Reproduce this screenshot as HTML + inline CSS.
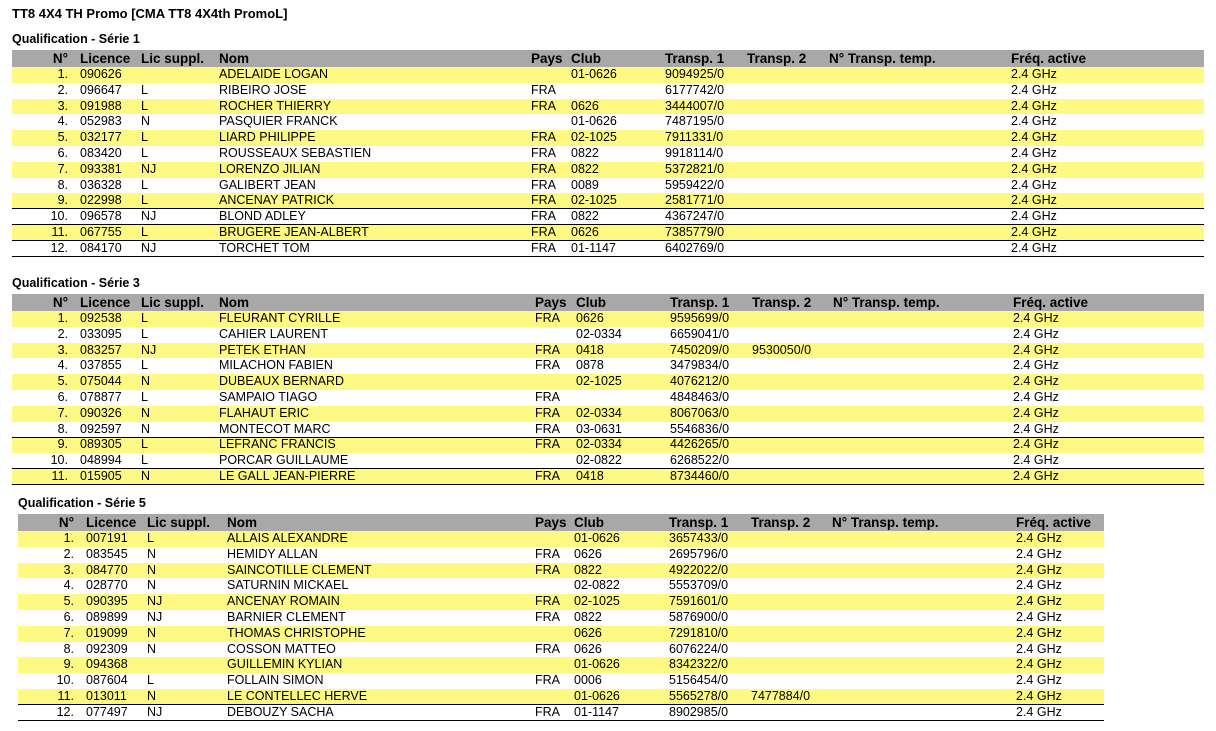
<!DOCTYPE html>
<html><head><meta charset="utf-8"><style>
body{margin:0;width:1216px;height:731px;background:#fff;font-family:"Liberation Sans",Arial,sans-serif;color:#000;position:relative;overflow:hidden}
.t{position:absolute;font-weight:bold;font-size:12.5px;white-space:nowrap}
table{position:absolute;border-collapse:collapse;table-layout:fixed;font-size:12.5px}
td{padding:0;height:15.8px;line-height:15.8px;white-space:nowrap;overflow:hidden}
td:first-child{text-align:right;padding-right:4px}
td:nth-child(2){padding-left:8px}
tr.h td{background:#a8a8a8;font-weight:bold;font-size:13.5px;height:15px;line-height:17px}
tr.y td{background:#fdf982}
tr.b td{background-image:linear-gradient(#000,#000);background-size:100% 1px;background-position:bottom;background-repeat:no-repeat}
tr.tp td{background-image:linear-gradient(#000,#000);background-size:100% 1px;background-position:top;background-repeat:no-repeat}
</style></head><body>
<div class="t" style="left:12px;top:6px;font-size:13px">TT8 4X4 TH Promo [CMA TT8 4X4th PromoL]</div>
<div class="t" style="left:12px;top:32px">Qualification - Série 1</div>
<table style="left:12px;top:50px;width:1192px">
<colgroup><col style="width:60px"><col style="width:69px"><col style="width:78px"><col style="width:312px"><col style="width:40px"><col style="width:94px"><col style="width:82px"><col style="width:82px"><col style="width:182px"><col style="width:193px"></colgroup>
<tr class="h"><td>N°</td><td>Licence</td><td>Lic suppl.</td><td>Nom</td><td>Pays</td><td>Club</td><td>Transp. 1</td><td>Transp. 2</td><td>N° Transp. temp.</td><td>Fréq. active</td></tr>
<tr class="y"><td>1.</td><td>090626</td><td></td><td>ADELAIDE LOGAN</td><td></td><td>01-0626</td><td>9094925/0</td><td></td><td></td><td>2.4 GHz</td></tr>
<tr><td>2.</td><td>096647</td><td>L</td><td>RIBEIRO JOSE</td><td>FRA</td><td></td><td>6177742/0</td><td></td><td></td><td>2.4 GHz</td></tr>
<tr class="y"><td>3.</td><td>091988</td><td>L</td><td>ROCHER THIERRY</td><td>FRA</td><td>0626</td><td>3444007/0</td><td></td><td></td><td>2.4 GHz</td></tr>
<tr><td>4.</td><td>052983</td><td>N</td><td>PASQUIER FRANCK</td><td></td><td>01-0626</td><td>7487195/0</td><td></td><td></td><td>2.4 GHz</td></tr>
<tr class="y"><td>5.</td><td>032177</td><td>L</td><td>LIARD PHILIPPE</td><td>FRA</td><td>02-1025</td><td>7911331/0</td><td></td><td></td><td>2.4 GHz</td></tr>
<tr><td>6.</td><td>083420</td><td>L</td><td>ROUSSEAUX SEBASTIEN</td><td>FRA</td><td>0822</td><td>9918114/0</td><td></td><td></td><td>2.4 GHz</td></tr>
<tr class="y"><td>7.</td><td>093381</td><td>NJ</td><td>LORENZO JILIAN</td><td>FRA</td><td>0822</td><td>5372821/0</td><td></td><td></td><td>2.4 GHz</td></tr>
<tr><td>8.</td><td>036328</td><td>L</td><td>GALIBERT JEAN</td><td>FRA</td><td>0089</td><td>5959422/0</td><td></td><td></td><td>2.4 GHz</td></tr>
<tr class="y b"><td>9.</td><td>022998</td><td>L</td><td>ANCENAY PATRICK</td><td>FRA</td><td>02-1025</td><td>2581771/0</td><td></td><td></td><td>2.4 GHz</td></tr>
<tr class="b"><td>10.</td><td>096578</td><td>NJ</td><td>BLOND ADLEY</td><td>FRA</td><td>0822</td><td>4367247/0</td><td></td><td></td><td>2.4 GHz</td></tr>
<tr class="y b"><td>11.</td><td>067755</td><td>L</td><td>BRUGERE JEAN-ALBERT</td><td>FRA</td><td>0626</td><td>7385779/0</td><td></td><td></td><td>2.4 GHz</td></tr>
<tr class="b"><td>12.</td><td>084170</td><td>NJ</td><td>TORCHET TOM</td><td>FRA</td><td>01-1147</td><td>6402769/0</td><td></td><td></td><td>2.4 GHz</td></tr>
</table>

<div class="t" style="left:12px;top:276px">Qualification - Série 3</div>
<table style="left:12px;top:294px;width:1192px">
<colgroup><col style="width:60px"><col style="width:69px"><col style="width:78px"><col style="width:316px"><col style="width:41px"><col style="width:94px"><col style="width:82px"><col style="width:81px"><col style="width:180px"><col style="width:191px"></colgroup>
<tr class="h"><td>N°</td><td>Licence</td><td>Lic suppl.</td><td>Nom</td><td>Pays</td><td>Club</td><td>Transp. 1</td><td>Transp. 2</td><td>N° Transp. temp.</td><td>Fréq. active</td></tr>
<tr class="y"><td>1.</td><td>092538</td><td>L</td><td>FLEURANT CYRILLE</td><td>FRA</td><td>0626</td><td>9595699/0</td><td></td><td></td><td>2.4 GHz</td></tr>
<tr><td>2.</td><td>033095</td><td>L</td><td>CAHIER LAURENT</td><td></td><td>02-0334</td><td>6659041/0</td><td></td><td></td><td>2.4 GHz</td></tr>
<tr class="y"><td>3.</td><td>083257</td><td>NJ</td><td>PETEK ETHAN</td><td>FRA</td><td>0418</td><td>7450209/0</td><td>9530050/0</td><td></td><td>2.4 GHz</td></tr>
<tr><td>4.</td><td>037855</td><td>L</td><td>MILACHON FABIEN</td><td>FRA</td><td>0878</td><td>3479834/0</td><td></td><td></td><td>2.4 GHz</td></tr>
<tr class="y"><td>5.</td><td>075044</td><td>N</td><td>DUBEAUX BERNARD</td><td></td><td>02-1025</td><td>4076212/0</td><td></td><td></td><td>2.4 GHz</td></tr>
<tr><td>6.</td><td>078877</td><td>L</td><td>SAMPAIO TIAGO</td><td>FRA</td><td></td><td>4848463/0</td><td></td><td></td><td>2.4 GHz</td></tr>
<tr class="y"><td>7.</td><td>090326</td><td>N</td><td>FLAHAUT ERIC</td><td>FRA</td><td>02-0334</td><td>8067063/0</td><td></td><td></td><td>2.4 GHz</td></tr>
<tr><td>8.</td><td>092597</td><td>N</td><td>MONTECOT MARC</td><td>FRA</td><td>03-0631</td><td>5546836/0</td><td></td><td></td><td>2.4 GHz</td></tr>
<tr class="y tp"><td>9.</td><td>089305</td><td>L</td><td>LEFRANC FRANCIS</td><td>FRA</td><td>02-0334</td><td>4426265/0</td><td></td><td></td><td>2.4 GHz</td></tr>
<tr class="b"><td>10.</td><td>048994</td><td>L</td><td>PORCAR GUILLAUME</td><td></td><td>02-0822</td><td>6268522/0</td><td></td><td></td><td>2.4 GHz</td></tr>
<tr class="y b"><td>11.</td><td>015905</td><td>N</td><td>LE GALL JEAN-PIERRE</td><td>FRA</td><td>0418</td><td>8734460/0</td><td></td><td></td><td>2.4 GHz</td></tr>
</table>

<div class="t" style="left:18px;top:496px">Qualification - Série 5</div>
<table style="left:18px;top:514px;width:1086px">
<colgroup><col style="width:60px"><col style="width:69px"><col style="width:80px"><col style="width:308px"><col style="width:39px"><col style="width:95px"><col style="width:82px"><col style="width:81px"><col style="width:184px"><col style="width:88px"></colgroup>
<tr class="h"><td>N°</td><td>Licence</td><td>Lic suppl.</td><td>Nom</td><td>Pays</td><td>Club</td><td>Transp. 1</td><td>Transp. 2</td><td>N° Transp. temp.</td><td>Fréq. active</td></tr>
<tr class="y"><td>1.</td><td>007191</td><td>L</td><td>ALLAIS ALEXANDRE</td><td></td><td>01-0626</td><td>3657433/0</td><td></td><td></td><td>2.4 GHz</td></tr>
<tr><td>2.</td><td>083545</td><td>N</td><td>HEMIDY ALLAN</td><td>FRA</td><td>0626</td><td>2695796/0</td><td></td><td></td><td>2.4 GHz</td></tr>
<tr class="y"><td>3.</td><td>084770</td><td>N</td><td>SAINCOTILLE CLEMENT</td><td>FRA</td><td>0822</td><td>4922022/0</td><td></td><td></td><td>2.4 GHz</td></tr>
<tr><td>4.</td><td>028770</td><td>N</td><td>SATURNIN MICKAEL</td><td></td><td>02-0822</td><td>5553709/0</td><td></td><td></td><td>2.4 GHz</td></tr>
<tr class="y"><td>5.</td><td>090395</td><td>NJ</td><td>ANCENAY ROMAIN</td><td>FRA</td><td>02-1025</td><td>7591601/0</td><td></td><td></td><td>2.4 GHz</td></tr>
<tr><td>6.</td><td>089899</td><td>NJ</td><td>BARNIER CLEMENT</td><td>FRA</td><td>0822</td><td>5876900/0</td><td></td><td></td><td>2.4 GHz</td></tr>
<tr class="y"><td>7.</td><td>019099</td><td>N</td><td>THOMAS CHRISTOPHE</td><td></td><td>0626</td><td>7291810/0</td><td></td><td></td><td>2.4 GHz</td></tr>
<tr><td>8.</td><td>092309</td><td>N</td><td>COSSON MATTEO</td><td>FRA</td><td>0626</td><td>6076224/0</td><td></td><td></td><td>2.4 GHz</td></tr>
<tr class="y"><td>9.</td><td>094368</td><td></td><td>GUILLEMIN KYLIAN</td><td></td><td>01-0626</td><td>8342322/0</td><td></td><td></td><td>2.4 GHz</td></tr>
<tr><td>10.</td><td>087604</td><td>L</td><td>FOLLAIN SIMON</td><td>FRA</td><td>0006</td><td>5156454/0</td><td></td><td></td><td>2.4 GHz</td></tr>
<tr class="y b"><td>11.</td><td>013011</td><td>N</td><td>LE CONTELLEC HERVE</td><td></td><td>01-0626</td><td>5565278/0</td><td>7477884/0</td><td></td><td>2.4 GHz</td></tr>
<tr class="b"><td>12.</td><td>077497</td><td>NJ</td><td>DEBOUZY SACHA</td><td>FRA</td><td>01-1147</td><td>8902985/0</td><td></td><td></td><td>2.4 GHz</td></tr>
</table>
</body></html>
